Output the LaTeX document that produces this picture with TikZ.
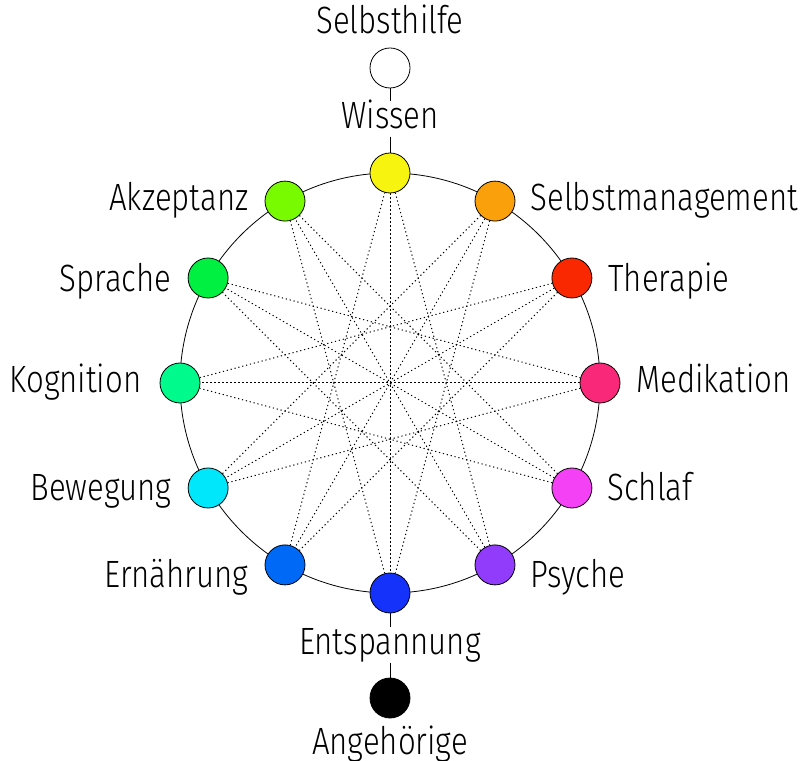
\documentclass[tikz,border=0pt]{standalone}
\usepackage{fontspec}
\setmainfont{Fira Sans}[UprightFont=* Light,FakeStretch=0.82]
\usetikzlibrary{positioning}

\definecolor{cWissen}{RGB}{247,245,15}
\definecolor{cSelbstmanagement}{RGB}{250,160,10}
\definecolor{cTherapie}{RGB}{250,40,0}
\definecolor{cMedikation}{RGB}{250,40,120}
\definecolor{cSchlaf}{RGB}{245,65,245}
\definecolor{cPsyche}{RGB}{145,60,250}
\definecolor{cEntspannung}{RGB}{20,50,250}
\definecolor{cErnaehrung}{RGB}{0,105,245}
\definecolor{cBewegung}{RGB}{0,230,250}
\definecolor{cKognition}{RGB}{0,250,140}
\definecolor{cSprache}{RGB}{0,240,65}
\definecolor{cAkzeptanz}{RGB}{120,250,0}

\tikzset{
  topic/.style={circle,draw,line width=0.8pt,minimum size=40pt,inner sep=0pt},
  topictext/.style={inner sep=0pt,text height=27pt,text depth=8pt,
    font=\fontsize{38}{40}\selectfont},
  link/.style={line width=1pt,dash pattern=on 1.2pt off 2.8pt}
}

\begin{document}
\begin{tikzpicture}[x=1pt,y=1pt]
\useasboundingbox (0,0) rectangle (802,760);
\draw[line width=0.8pt] (390,377) circle (210);

\node[topic,fill=cWissen] (wi) at (390,587) {};
\node[topic,fill=cSelbstmanagement] (sm) at (495,558.9) {};
\node[topic,fill=cTherapie] (th) at (571.9,482) {};
\node[topic,fill=cMedikation] (me) at (600,377) {};
\node[topic,fill=cSchlaf] (sc) at (571.9,272) {};
\node[topic,fill=cPsyche] (ps) at (495,195.1) {};
\node[topic,fill=cEntspannung] (en) at (390,167) {};
\node[topic,fill=cErnaehrung] (er) at (285,195.1) {};
\node[topic,fill=cBewegung] (be) at (208.1,272) {};
\node[topic,fill=cKognition] (ko) at (180,377) {};
\node[topic,fill=cSprache] (sp) at (208.1,482) {};
\node[topic,fill=cAkzeptanz] (ak) at (285,558.9) {};

% Sternlinien
\draw[link] (wi) -- (ps);
\draw[link] (sm) -- (en);
\draw[link] (th) -- (er);
\draw[link] (me) -- (be);
\draw[link] (sc) -- (ko);
\draw[link] (ps) -- (sp);
\draw[link] (en) -- (ak);
\draw[link] (er) -- (wi);
\draw[link] (be) -- (sm);
\draw[link] (ko) -- (th);
\draw[link] (sp) -- (me);
\draw[link] (ak) -- (sc);
\draw[link] (wi) -- (en);
\draw[link] (sm) -- (er);
\draw[link] (th) -- (be);
\draw[link] (me) -- (ko);
\draw[link] (sc) -- (sp);
\draw[link] (ps) -- (ak);

% Beschriftungen
\node[topictext,right=15pt of sm] (smtext) {Selbstmanagement};
\node[topictext,right=16pt of th,yshift=-4pt] (thtext) {Therapie};
\node[topictext,right=16pt of me] (metext) {Medikation};
\node[topictext,right=15pt of sc,yshift=-3pt] (sctext) {Schlaf};
\node[topictext,right=15pt of ps,yshift=-13pt] (pstext) {Psyche};
\node[topictext,left=16pt of er,yshift=-13pt] (ertext) {Ernährung};
\node[topictext,left=16pt of be,yshift=-3pt] (betext) {Bewegung};
\node[topictext,left=18pt of ko] (kotext) {Kognition};
\node[topictext,left=16pt of sp,yshift=-4pt] (sptext) {Sprache};
\node[topictext,left=16pt of ak] (aktext) {Akzeptanz};

% oben und unten
\node[topic,fill=white] (sh) at (390,692) {};
\node[topictext] (shtext) at (390,736) {Selbsthilfe};
\node[topictext] (witext) at (390,641) {Wissen};
\node[topictext] (entext) at (390,115) {Entspannung};
\node[topic,fill=black] (an) at (390,62) {};
\node[topictext] (antext) at (390,15) {Angehörige};
\draw[line width=0.8pt] (sh) -- (witext) -- (wi);
\draw[line width=0.8pt] (en) -- (entext) -- (an);
\end{tikzpicture}
\end{document}
